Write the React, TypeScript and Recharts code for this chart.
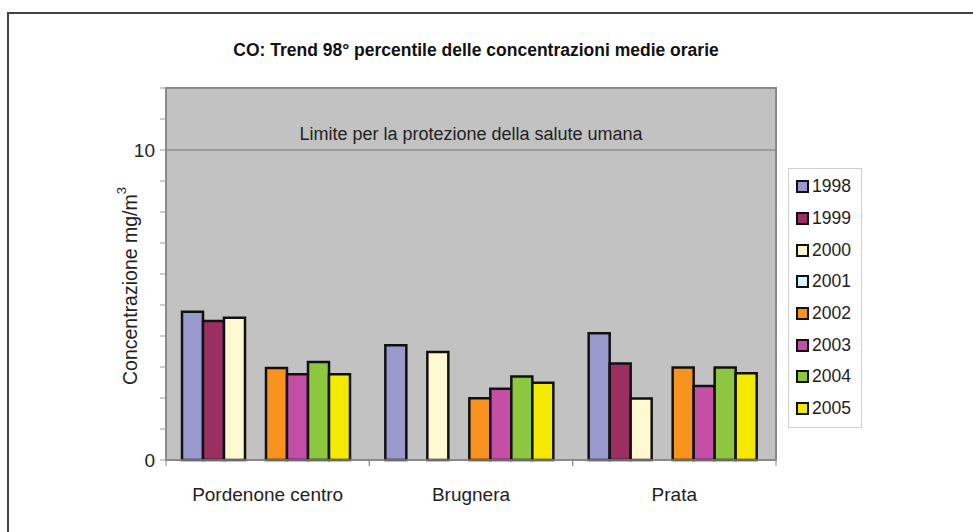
import React from "react";
import {
  BarChart,
  Bar,
  XAxis,
  YAxis,
  CartesianGrid,
  ReferenceLine,
  ReferenceArea,
  Label,
} from "recharts";

const stations = ["Pordenone centro", "Brugnera", "Prata"];
const years = ["1998", "1999", "2000", "2001", "2002", "2003", "2004", "2005"];

const v1998 = [4.78, 3.7, 4.09];
const v1999 = [4.48, null, 3.11];
const v2000 = [4.59, 3.48, 1.98];
const v2001 = [null, null, null];
const v2002 = [2.97, 1.99, 2.98];
const v2003 = [2.77, 2.3, 2.39];
const v2004 = [3.16, 2.69, 2.98];
const v2005 = [2.77, 2.49, 2.8];

const yTicks = [0, 1, 2, 3, 4, 5, 6, 7, 8, 9, 10, 11, 12];
const yLabels = [0, 10];
const limitValue = 10;
const limitText = "Limite per la protezione della salute umana";

const seriesValues = [v1998, v1999, v2000, v2001, v2002, v2003, v2004, v2005];
const colors = [
  "#9a9ace",
  "#9b2f62",
  "#fff9d2",
  "#d6f3fb",
  "#f7931e",
  "#c54ea6",
  "#8dc63f",
  "#f4ea00",
];

const chartData = stations.map((name, i) => {
  const row: Record<string, string | number | null> = { name };
  years.forEach((y, j) => {
    row[y] = seriesValues[j][i];
  });
  return row;
});

const FONT = "'Liberation Sans', Arial, sans-serif";

const XTick = (props: any) => {
  const { x, y, payload } = props;
  const half = payload.offset || 0;
  return (
    <g>
      <line x1={x - half} x2={x - half} y1={y - 8} y2={y - 2} stroke="#888" />
      <line x1={x + half} x2={x + half} y1={y - 8} y2={y - 2} stroke="#888" />
      <text
        x={x}
        y={y + 33}
        textAnchor="middle"
        fontSize={19}
        fill="#222"
        fontFamily={FONT}
      >
        {payload.value}
      </text>
    </g>
  );
};

const YTitle = (props: any) => {
  const { viewBox } = props;
  const cx = 130;
  const cy = viewBox.y + viewBox.height / 2 + 12;
  return (
    <text
      x={cx}
      y={cy}
      transform={`rotate(-90 ${cx} ${cy})`}
      textAnchor="middle"
      dominantBaseline="central"
      fontSize={19.5}
      fill="#222"
      fontFamily={FONT}
    >
      Concentrazione mg/m
      <tspan fontSize={13} dy={-9}>
        3
      </tspan>
    </text>
  );
};

export default function App() {
  return (
    <div
      style={{
        position: "absolute",
        left: 0,
        top: 0,
        width: 973,
        height: 532,
        background: "#fff",
        fontFamily: FONT,
      }}
    >
      <div
        style={{
          position: "absolute",
          left: 7,
          top: 12,
          width: 966,
          height: 520,
          borderTop: "2px solid #444",
          borderLeft: "2px solid #444",
        }}
      />
      <div
        style={{
          position: "absolute",
          left: 0,
          top: 40,
          width: 952,
          textAlign: "center",
          fontWeight: "bold",
          fontSize: 17.5,
          color: "#111",
        }}
      >
        CO: Trend 98° percentile delle concentrazioni medie orarie
      </div>
      <div style={{ position: "absolute", left: 0, top: 0 }}>
        <BarChart
          width={973}
          height={532}
          data={chartData}
          margin={{ top: 88, right: 197, left: 106, bottom: 32 }}
          barCategoryGap={16}
          barGap={0}
        >
          <CartesianGrid
            horizontal={false}
            vertical={false}
            fill="#c2c2c2"
            fillOpacity={1}
          />
          <XAxis
            dataKey="name"
            height={40}
            axisLine={{ stroke: "#888", strokeWidth: 1.5 }}
            tickLine={false}
            tick={<XTick />}
            interval={0}
          />
          <YAxis
            width={60}
            domain={[0, 12]}
            ticks={yTicks}
            interval={0}
            axisLine={{ stroke: "#8a8a8a", strokeWidth: 2 }}
            tickLine={{ stroke: "#999" }}
            tickSize={6}
            tickMargin={5}
            tickFormatter={(v: number) => (yLabels.includes(v) ? String(v) : "")}
            tick={{ fontSize: 19, fill: "#222", fontFamily: FONT }}
          >
            <Label content={<YTitle />} />
          </YAxis>
          <ReferenceArea
            y1={0}
            y2={12}
            fill="none"
            stroke="#8a8a8a"
            strokeWidth={2}
            ifOverflow="visible"
          />
          <ReferenceLine y={limitValue} stroke="#8e8e8e" strokeWidth={1.5}>
            <Label
              value={limitText}
              position="top"
              offset={10}
              fontSize={18}
              fill="#222"
              fontFamily={FONT}
            />
          </ReferenceLine>
          {years.map((y, j) => (
            <Bar
              key={y}
              dataKey={y}
              fill={colors[j]}
              stroke="#111"
              strokeWidth={2.5}
              isAnimationActive={false}
            />
          ))}
        </BarChart>
      </div>
      <div
        style={{
          position: "absolute",
          left: 788,
          top: 168,
          width: 74,
          height: 260,
          border: "1px solid #cfcfcf",
          paddingTop: 2,
          boxSizing: "border-box",
        }}
      >
        {years.map((y, j) => (
          <div
            key={y}
            style={{
              height: 31.7,
              display: "flex",
              alignItems: "center",
              fontSize: 17.5,
              color: "#222",
            }}
          >
            <span
              style={{
                display: "inline-block",
                width: 9,
                height: 9,
                marginLeft: 7,
                marginRight: 3,
                background: colors[j],
                border: "2px solid #111",
              }}
            />
            {y}
          </div>
        ))}
      </div>
    </div>
  );
}
